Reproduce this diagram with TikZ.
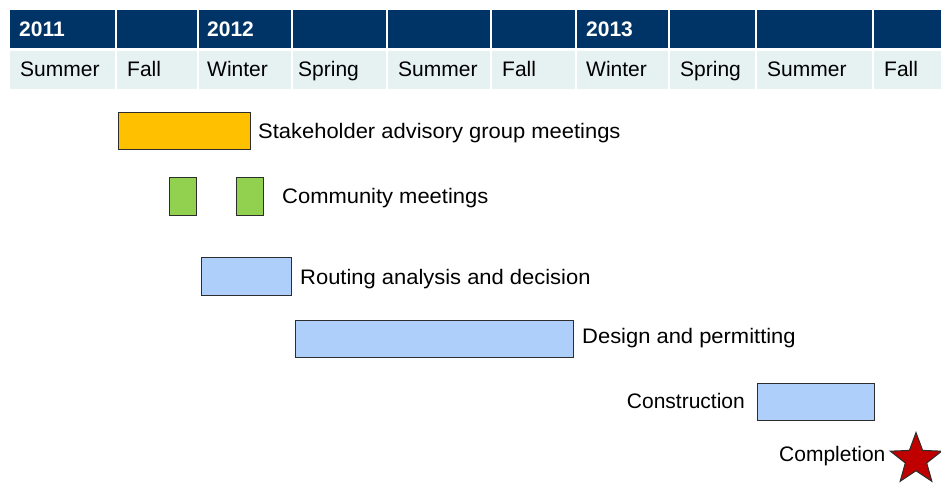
\documentclass[tikz,border=0pt]{standalone}
\usepackage{fontspec}
\setmainfont{Liberation Sans}
\newfontfamily\lblfont[FakeStretch=1.045]{Liberation Sans}
\usetikzlibrary{shapes.geometric}
\definecolor{navy}{RGB}{0,51,102}
\definecolor{paleblue}{RGB}{230,241,242}
\definecolor{sagorange}{RGB}{255,192,0}
\definecolor{commgreen}{RGB}{146,208,80}
\definecolor{barblue}{RGB}{173,207,250}
\definecolor{stardark}{RGB}{192,0,0}
\definecolor{edgegray}{RGB}{45,45,45}
\tikzset{
  hdrtxt/.style={anchor=base west, inner sep=0, font=\fontsize{21}{25}\selectfont},
  yeartxt/.style={hdrtxt, text=white, font=\fontsize{21}{25}\selectfont\bfseries},
  bar/.style={draw=edgegray, line width=1pt, anchor=north west, inner sep=0, outer sep=0},
  lbl/.style={anchor=base west, inner sep=0, text=black, font=\lblfont\fontsize{21}{25}\selectfont},
}
\begin{document}
\begin{tikzpicture}[x=1pt,y=-1pt]
\useasboundingbox (0,0) rectangle (941,482);
% header cells
\foreach \a/\b in {9.5/115.3,116.7/197.3,198.7/291.3,292.7/386.3,387.7/490.3,491.7/575.3,576.7/668.3,669.7/755.3,756.7/872.3,873.7/941}{
  \fill[navy] (\a,10) rectangle (\b,48);
  \fill[paleblue] (\a,50.5) rectangle (\b,89);
}
% years
\node[yeartxt] (y2011) at (19,36) {2011};
\node[yeartxt] (y2012) at (207,36) {2012};
\node[yeartxt] (y2013) at (586,36) {2013};
% seasons
\node[hdrtxt] (s1) at (20,76) {Summer};
\node[hdrtxt] (s2) at (127,76) {Fall};
\node[hdrtxt] (s3) at (207,76) {Winter};
\node[hdrtxt] (s4) at (298,76) {Spring};
\node[hdrtxt] (s5) at (398,76) {Summer};
\node[hdrtxt] (s6) at (502,76) {Fall};
\node[hdrtxt] (s7) at (586,76) {Winter};
\node[hdrtxt] (s8) at (680,76) {Spring};
\node[hdrtxt] (s9) at (767,76) {Summer};
\node[hdrtxt] (s10) at (884,76) {Fall};
% bars
\node[bar, fill=sagorange, minimum width=132pt, minimum height=37pt] (sag) at (118,112) {};
\node[lbl] (sagl) at (258,138) {Stakeholder advisory group meetings};
\node[bar, fill=commgreen, minimum width=27.5pt, minimum height=37.5pt] (comm1) at (169,177.5) {};
\node[bar, fill=commgreen, minimum width=27.5pt, minimum height=37.5pt] (comm2) at (236,177.5) {};
\node[lbl] (comml) at (282,203) {Community meetings};
\node[bar, fill=barblue, minimum width=90pt, minimum height=38pt] (route) at (201,257) {};
\node[lbl] (routel) at (300,284.3) {Routing analysis and decision};
\node[bar, fill=barblue, minimum width=278pt, minimum height=37.5pt] (design) at (295,320) {};
\node[lbl] (designl) at (582,343.5) {Design and permitting};
\node[bar, fill=barblue, minimum width=117pt, minimum height=37.5pt] (constr) at (757,383) {};
\node[lbl, anchor=base east, font=\fontsize{21}{25}\selectfont] (constrl) at (745,408.3) {Construction};
\node[lbl, font=\fontsize{21}{25}\selectfont] (compl) at (779,461) {Completion};
\node[star, star points=5, star point ratio=2.4, minimum size=54pt, inner sep=0,
      fill=stardark, draw=edgegray, line width=1pt] (star) at (916,459.5) {};
\end{tikzpicture}
\end{document}
